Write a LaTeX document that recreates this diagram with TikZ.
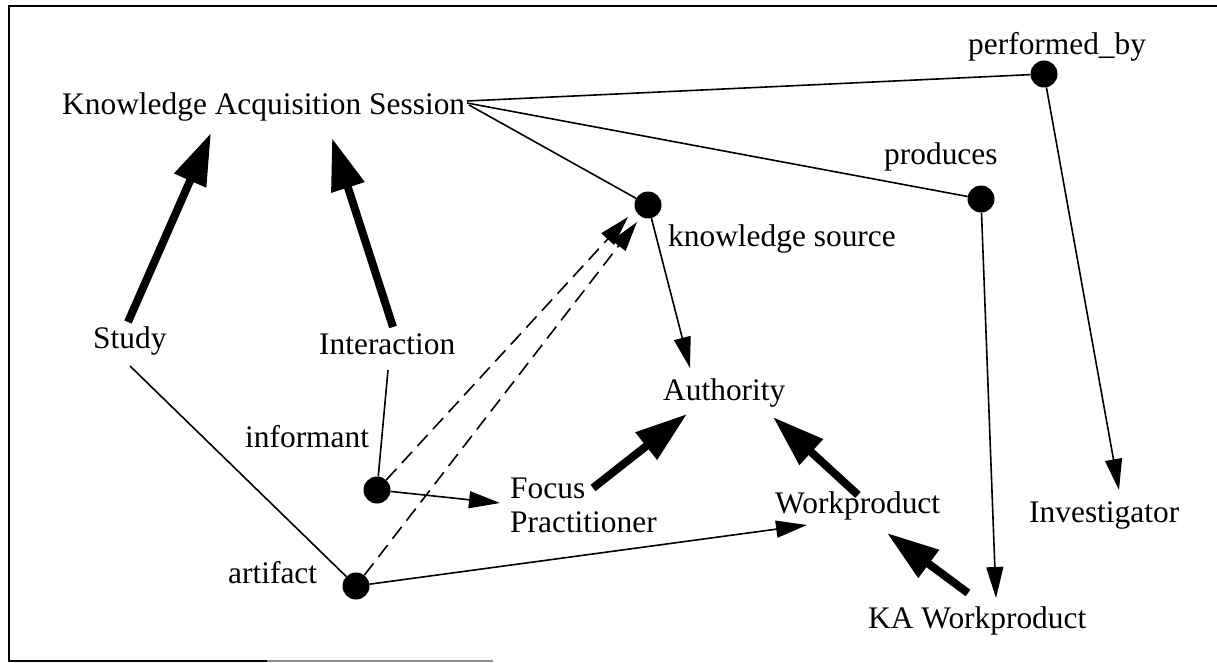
\documentclass[tikz,border=0pt]{standalone}
\usepackage{fontspec}
\setmainfont{Liberation Serif}
\usetikzlibrary{arrows.meta,calc}
\begin{document}
\begin{tikzpicture}[x=1pt,y=-1pt,
  lbl/.style={anchor=base west, inner sep=0pt, font=\fontsize{31.4}{34}\selectfont},
  dot/.style={circle, fill=black, inner sep=0pt, minimum size=27pt},
  thinline/.style={line width=1.6pt},
  thinarrow/.style={line width=1.6pt, -{Triangle[length=31pt,width=17pt]}},
  thickarrow/.style={line width=8pt, -{Triangle[length=52pt,width=33pt]}},
  dashedarrow/.style={line width=1.6pt, dash pattern=on 15pt off 8pt, -{Triangle[length=30pt,width=17pt]}},
  frameline/.style={line width=2.5pt}]
\useasboundingbox (0,0) rectangle (1217,663);
% frame
\draw[frameline] (1217,6) -- (9,6) -- (9,661) -- (267,661);
\draw[frameline, black!45] (267,661) -- (493,661);
% labels
\node[lbl] (kas) at (62,115) {Knowledge Acquisition Session};
\node[lbl] (perflbl) at (968,55) {performed\_by};
\node[lbl] (prodlbl) at (884,165) {produces};
\node[lbl] (kslbl) at (668,246) {knowledge source};
\node[lbl] (study) at (93,348) {Study};
\node[lbl] (interaction) at (319,354) {Interaction};
\node[lbl] (authority) at (663,400) {Authority};
\node[lbl] (inflbl) at (245,447) {informant};
\node[lbl, align=left] (focus) at (510,532) {Focus\\Practitioner};
\node[lbl] (workproduct) at (775,513) {Workproduct};
\node[lbl] (investigator) at (1029,522) {Investigator};
\node[lbl] (artlbl) at (228,583) {artifact};
\node[lbl] (kawp) at (868,628) {KA Workproduct};
% dots
\node[dot] (pd) at (1044,74) {};
\node[dot] (prd) at (981,199) {};
\node[dot] (ksd) at (648,205) {};
\node[dot] (infd) at (377,490) {};
\node[dot] (artd) at (356,586) {};
% thin lines from KAS
\draw[thinline] ($(kas.base west)+(405,-14)$) -- (pd);
\draw[thinline] ($(kas.base west)+(405,-12)$) -- (prd);
\draw[thinline] ($(kas.base west)+(407,-10)$) -- (ksd);
% thin arrows
\draw[thinarrow] (pd) -- ($(investigator.base west)+(90,-32)$);
\draw[thinarrow] (prd) -- ($(kawp.base west)+(128,-30)$);
\draw[thinarrow] (ksd) -- ($(authority.base west)+(27,-32)$);
\draw[thinarrow] (infd) -- ($(focus.base west)+(-10,-29)$);
\draw[thinarrow] (artd) -- ($(workproduct.base west)+(32,12)$);
% plain lines
\draw[thinline] ($(interaction.base west)+(69,16)$) -- (infd);
\draw[thinline] ($(study.base west)+(37,18)$) -- (artd);
% dashed arrows
\draw[dashedarrow] (infd) -- ($(ksd.center)+(-20,12)$);
\draw[dashedarrow] (artd) -- ($(ksd.center)+(-11,17)$);
% thick arrows
\draw[thickarrow] ($(study.base west)+(35,-26)$) -- ($(kas.base west)+(149,18)$);
\draw[thickarrow] ($(interaction.base west)+(74,-27)$) -- ($(kas.base west)+(270,23)$);
\draw[thickarrow] ($(focus.base west)+(83,-44)$) -- ($(authority.base west)+(24,14)$);
\draw[thickarrow] ($(workproduct.base west)+(83,-18)$) -- ($(authority.base west)+(110,17)$);
\draw[thickarrow] ($(kawp.base west)+(100,-35)$) -- ($(workproduct.base west)+(112,20)$);
\end{tikzpicture}
\end{document}
